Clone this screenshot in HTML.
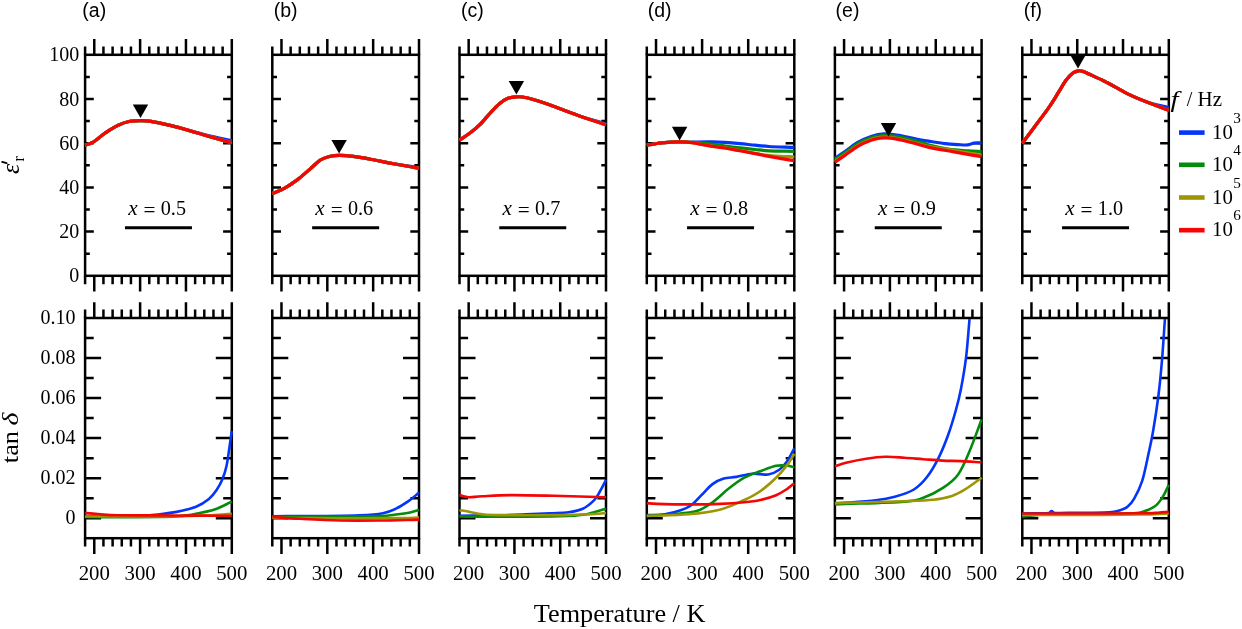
<!DOCTYPE html><html><head><meta charset="utf-8"><style>html,body{margin:0;padding:0;background:#fff;}svg{display:block;will-change:transform;}</style></head><body>
<svg width="1242" height="629" viewBox="0 0 1242 629">
<rect width="1242" height="629" fill="#fff"/>
<defs>
<clipPath id="ct0"><rect x="84" y="55.9" width="148.9" height="218.8"/></clipPath>
<clipPath id="cb0"><rect x="84" y="319.1" width="148.9" height="218"/></clipPath>
<clipPath id="ct1"><rect x="271.2" y="55.9" width="148.9" height="218.8"/></clipPath>
<clipPath id="cb1"><rect x="271.2" y="319.1" width="148.9" height="218"/></clipPath>
<clipPath id="ct2"><rect x="458.4" y="55.9" width="148.7" height="218.8"/></clipPath>
<clipPath id="cb2"><rect x="458.4" y="319.1" width="148.7" height="218"/></clipPath>
<clipPath id="ct3"><rect x="645.7" y="55.9" width="149.7" height="218.8"/></clipPath>
<clipPath id="cb3"><rect x="645.7" y="319.1" width="149.7" height="218"/></clipPath>
<clipPath id="ct4"><rect x="833.8" y="55.9" width="148.9" height="218.8"/></clipPath>
<clipPath id="cb4"><rect x="833.8" y="319.1" width="148.9" height="218"/></clipPath>
<clipPath id="ct5"><rect x="1021.2" y="55.9" width="148.7" height="218.8"/></clipPath>
<clipPath id="cb5"><rect x="1021.2" y="319.1" width="148.7" height="218"/></clipPath>
</defs>
<rect x="85.1" y="54.8" width="146.7" height="221" fill="none" stroke="#000" stroke-width="2.5"/>
<path d="M85.1 54.8V46.4M85.1 275.8V284.2M94.27 54.8V39.1M94.27 275.8V291.5M103.44 54.8V46.4M103.44 275.8V284.2M112.61 54.8V46.4M112.61 275.8V284.2M121.78 54.8V46.4M121.78 275.8V284.2M130.94 54.8V46.4M130.94 275.8V284.2M140.11 54.8V39.1M140.11 275.8V291.5M149.28 54.8V46.4M149.28 275.8V284.2M158.45 54.8V46.4M158.45 275.8V284.2M167.62 54.8V46.4M167.62 275.8V284.2M176.79 54.8V46.4M176.79 275.8V284.2M185.96 54.8V39.1M185.96 275.8V291.5M195.12 54.8V46.4M195.12 275.8V284.2M204.29 54.8V46.4M204.29 275.8V284.2M213.46 54.8V46.4M213.46 275.8V284.2M222.63 54.8V46.4M222.63 275.8V284.2M231.8 54.8V39.1M231.8 275.8V291.5M85.1 231.6H93.8M231.8 231.6H223.1M85.1 187.4H93.8M231.8 187.4H223.1M85.1 143.2H93.8M231.8 143.2H223.1M85.1 99H93.8M231.8 99H223.1M85.1 253.7H89.8M231.8 253.7H227.1M85.1 209.5H89.8M231.8 209.5H227.1M85.1 165.3H89.8M231.8 165.3H227.1M85.1 121.1H89.8M231.8 121.1H227.1M85.1 76.9H89.8M231.8 76.9H227.1" stroke="#000" stroke-width="2.5" fill="none"/>
<rect x="85.1" y="318" width="146.7" height="220.2" fill="none" stroke="#000" stroke-width="2.5"/>
<path d="M85.1 318V309.6M85.1 538.2V546.6M94.27 318V302.3M94.27 538.2V553.9M103.44 318V309.6M103.44 538.2V546.6M112.61 318V309.6M112.61 538.2V546.6M121.78 318V309.6M121.78 538.2V546.6M130.94 318V309.6M130.94 538.2V546.6M140.11 318V302.3M140.11 538.2V553.9M149.28 318V309.6M149.28 538.2V546.6M158.45 318V309.6M158.45 538.2V546.6M167.62 318V309.6M167.62 538.2V546.6M176.79 318V309.6M176.79 538.2V546.6M185.96 318V302.3M185.96 538.2V553.9M195.12 318V309.6M195.12 538.2V546.6M204.29 318V309.6M204.29 538.2V546.6M213.46 318V309.6M213.46 538.2V546.6M222.63 318V309.6M222.63 538.2V546.6M231.8 318V302.3M231.8 538.2V553.9M85.1 518.18H101.1M231.8 518.18H215.8M85.1 478.15H101.1M231.8 478.15H215.8M85.1 438.11H101.1M231.8 438.11H215.8M85.1 398.07H101.1M231.8 398.07H215.8M85.1 358.04H101.1M231.8 358.04H215.8M85.1 498.16H93.7M231.8 498.16H223.2M85.1 458.13H93.7M231.8 458.13H223.2M85.1 418.09H93.7M231.8 418.09H223.2M85.1 378.05H93.7M231.8 378.05H223.2M85.1 338.02H93.7M231.8 338.02H223.2" stroke="#000" stroke-width="2.5" fill="none"/>
<g clip-path="url(#ct0)">
<path d="M85.1 145.2C87.63 144.27 89.32 144.47 92.7 142.4C96.08 140.33 101.15 135.67 105.4 132.8C109.65 129.93 114.1 127.12 118.2 125.2C122.3 123.28 126.27 122.07 130 121.3C133.73 120.53 137.12 120.6 140.6 120.6C144.08 120.6 145.97 120.5 150.9 121.3C155.83 122.1 163.77 123.85 170.2 125.4C176.63 126.95 183.05 128.87 189.5 130.6C195.95 132.33 201.85 134.13 208.9 135.8C215.95 137.47 224.17 139 231.8 140.6" stroke="#0535f8" stroke-width="3.2" fill="none" stroke-linejoin="round" stroke-linecap="butt"/>
<path d="M85.1 145.2C87.63 144.27 89.32 144.47 92.7 142.4C96.08 140.33 101.15 135.67 105.4 132.8C109.65 129.93 114.1 127.12 118.2 125.2C122.3 123.28 126.27 122.07 130 121.3C133.73 120.53 137.12 120.6 140.6 120.6C144.08 120.6 145.97 120.5 150.9 121.3C155.83 122.1 163.77 123.85 170.2 125.4C176.63 126.95 183.05 128.77 189.5 130.6C195.95 132.43 201.85 134.37 208.9 136.4C215.95 138.43 224.17 140.67 231.8 142.8" stroke="#048b0c" stroke-width="3.2" fill="none" stroke-linejoin="round" stroke-linecap="butt"/>
<path d="M85.1 145.2C87.63 144.27 89.32 144.47 92.7 142.4C96.08 140.33 101.15 135.67 105.4 132.8C109.65 129.93 114.1 127.12 118.2 125.2C122.3 123.28 126.27 122.07 130 121.3C133.73 120.53 137.12 120.6 140.6 120.6C144.08 120.6 145.97 120.5 150.9 121.3C155.83 122.1 163.77 123.85 170.2 125.4C176.63 126.95 183.05 128.77 189.5 130.6C195.95 132.43 201.85 134.37 208.9 136.4C215.95 138.43 224.17 140.67 231.8 142.8" stroke="#9c9604" stroke-width="3.2" fill="none" stroke-linejoin="round" stroke-linecap="butt"/>
<path d="M85.1 145.2C87.63 144.27 89.32 144.47 92.7 142.4C96.08 140.33 101.15 135.67 105.4 132.8C109.65 129.93 114.1 127.12 118.2 125.2C122.3 123.28 126.27 122.07 130 121.3C133.73 120.53 137.12 120.6 140.6 120.6C144.08 120.6 145.97 120.5 150.9 121.3C155.83 122.1 163.77 123.85 170.2 125.4C176.63 126.95 183.05 128.77 189.5 130.6C195.95 132.43 201.85 134.37 208.9 136.4C215.95 138.43 224.17 140.67 231.8 142.8" stroke="#f50505" stroke-width="3.2" fill="none" stroke-linejoin="round" stroke-linecap="butt"/>
</g>
<g clip-path="url(#cb0)">
<path d="M85.1 516C93.4 516.17 100.85 516.5 110 516.5C119.15 516.5 132.12 516.33 140 516C147.88 515.67 151.2 515.18 157.3 514.5C163.4 513.82 170.15 513.18 176.6 511.9C183.05 510.62 190.62 508.95 196 506.8C201.38 504.65 205.47 501.8 208.9 499C212.33 496.2 214.33 493.33 216.6 490C218.87 486.67 220.85 483 222.5 479C224.15 475 225.33 471.33 226.5 466C227.67 460.67 228.62 452.83 229.5 447C230.38 441.17 231.03 436.33 231.8 431" stroke="#0535f8" stroke-width="2.6" fill="none" stroke-linejoin="round" stroke-linecap="butt"/>
<path d="M85.1 517C96.73 517.1 107.52 517.3 120 517.3C132.48 517.3 150 517.17 160 517C170 516.83 174 516.83 180 516.3C186 515.77 190.12 514.97 196 513.8C201.88 512.63 209.33 511.33 215.3 509.3C221.27 507.27 226.3 504.17 231.8 501.6" stroke="#048b0c" stroke-width="2.6" fill="none" stroke-linejoin="round" stroke-linecap="butt"/>
<path d="M85.1 516.5C103.4 516.5 120.85 516.62 140 516.5C159.15 516.38 184.7 516.25 200 515.8C215.3 515.35 221.2 514.47 231.8 513.8" stroke="#9c9604" stroke-width="2.6" fill="none" stroke-linejoin="round" stroke-linecap="butt"/>
<path d="M85.1 512.9C90.07 513.37 94.52 513.9 100 514.3C105.48 514.7 108 515.12 118 515.3C128 515.48 146.33 515.35 160 515.4C173.67 515.45 188.03 515.53 200 515.6C211.97 515.67 221.2 515.73 231.8 515.8" stroke="#f50505" stroke-width="2.6" fill="none" stroke-linejoin="round" stroke-linecap="butt"/>
</g>
<path d="M132.8 104.4L148.2 104.4L140.5 118Z" fill="#000"/>
<text transform="translate(128.15,215.4) scale(1.06,1)" font-family='"Liberation Serif", serif' font-size="20" font-style="italic">x</text>
<text transform="translate(143.45,217) scale(1.06,1)" font-family='"Liberation Serif", serif' font-size="20">=</text>
<text transform="translate(160.75,215.4) scale(1.01,1)" font-family='"Liberation Serif", serif' font-size="20">0.5</text>
<path d="M124.95 227.8H191.95" stroke="#000" stroke-width="3"/>
<text transform="translate(82.3,16.8)" font-family='"Liberation Sans", sans-serif' font-size="19.5">(a)</text>
<text transform="translate(94.27,580) scale(1.04,1)" font-family='"Liberation Serif", serif' font-size="20" text-anchor="middle">200</text>
<text transform="translate(140.11,580) scale(1.04,1)" font-family='"Liberation Serif", serif' font-size="20" text-anchor="middle">300</text>
<text transform="translate(185.96,580) scale(1.04,1)" font-family='"Liberation Serif", serif' font-size="20" text-anchor="middle">400</text>
<text transform="translate(231.8,580) scale(1.04,1)" font-family='"Liberation Serif", serif' font-size="20" text-anchor="middle">500</text>
<rect x="272.3" y="54.8" width="146.7" height="221" fill="none" stroke="#000" stroke-width="2.5"/>
<path d="M272.3 54.8V46.4M272.3 275.8V284.2M281.47 54.8V39.1M281.47 275.8V291.5M290.64 54.8V46.4M290.64 275.8V284.2M299.81 54.8V46.4M299.81 275.8V284.2M308.98 54.8V46.4M308.98 275.8V284.2M318.14 54.8V46.4M318.14 275.8V284.2M327.31 54.8V39.1M327.31 275.8V291.5M336.48 54.8V46.4M336.48 275.8V284.2M345.65 54.8V46.4M345.65 275.8V284.2M354.82 54.8V46.4M354.82 275.8V284.2M363.99 54.8V46.4M363.99 275.8V284.2M373.16 54.8V39.1M373.16 275.8V291.5M382.33 54.8V46.4M382.33 275.8V284.2M391.49 54.8V46.4M391.49 275.8V284.2M400.66 54.8V46.4M400.66 275.8V284.2M409.83 54.8V46.4M409.83 275.8V284.2M419 54.8V39.1M419 275.8V291.5M272.3 231.6H281M419 231.6H410.3M272.3 187.4H281M419 187.4H410.3M272.3 143.2H281M419 143.2H410.3M272.3 99H281M419 99H410.3M272.3 253.7H277M419 253.7H414.3M272.3 209.5H277M419 209.5H414.3M272.3 165.3H277M419 165.3H414.3M272.3 121.1H277M419 121.1H414.3M272.3 76.9H277M419 76.9H414.3" stroke="#000" stroke-width="2.5" fill="none"/>
<rect x="272.3" y="318" width="146.7" height="220.2" fill="none" stroke="#000" stroke-width="2.5"/>
<path d="M272.3 318V309.6M272.3 538.2V546.6M281.47 318V302.3M281.47 538.2V553.9M290.64 318V309.6M290.64 538.2V546.6M299.81 318V309.6M299.81 538.2V546.6M308.98 318V309.6M308.98 538.2V546.6M318.14 318V309.6M318.14 538.2V546.6M327.31 318V302.3M327.31 538.2V553.9M336.48 318V309.6M336.48 538.2V546.6M345.65 318V309.6M345.65 538.2V546.6M354.82 318V309.6M354.82 538.2V546.6M363.99 318V309.6M363.99 538.2V546.6M373.16 318V302.3M373.16 538.2V553.9M382.33 318V309.6M382.33 538.2V546.6M391.49 318V309.6M391.49 538.2V546.6M400.66 318V309.6M400.66 538.2V546.6M409.83 318V309.6M409.83 538.2V546.6M419 318V302.3M419 538.2V553.9M272.3 518.18H288.3M419 518.18H403M272.3 478.15H288.3M419 478.15H403M272.3 438.11H288.3M419 438.11H403M272.3 398.07H288.3M419 398.07H403M272.3 358.04H288.3M419 358.04H403M272.3 498.16H280.9M419 498.16H410.4M272.3 458.13H280.9M419 458.13H410.4M272.3 418.09H280.9M419 418.09H410.4M272.3 378.05H280.9M419 378.05H410.4M272.3 338.02H280.9M419 338.02H410.4" stroke="#000" stroke-width="2.5" fill="none"/>
<g clip-path="url(#ct1)">
<path d="M272.3 193.5C276.3 191.77 280.15 190.57 284.3 188.3C288.45 186.03 292.9 183.12 297.2 179.9C301.5 176.68 306.23 172.32 310.1 169C313.97 165.68 317.18 162.08 320.4 160C323.62 157.92 326.18 157.27 329.4 156.5C332.62 155.73 335.4 155.37 339.7 155.4C344 155.43 349.4 155.93 355.2 156.7C361 157.47 368.05 158.82 374.5 160C380.95 161.18 386.48 162.55 393.9 163.8C401.32 165.05 410.63 166.27 419 167.5" stroke="#0535f8" stroke-width="3.2" fill="none" stroke-linejoin="round" stroke-linecap="butt"/>
<path d="M272.3 193.5C276.3 191.77 280.15 190.57 284.3 188.3C288.45 186.03 292.9 183.12 297.2 179.9C301.5 176.68 306.23 172.32 310.1 169C313.97 165.68 317.18 162.08 320.4 160C323.62 157.92 326.18 157.27 329.4 156.5C332.62 155.73 335.4 155.37 339.7 155.4C344 155.43 349.4 155.93 355.2 156.7C361 157.47 368.05 158.82 374.5 160C380.95 161.18 386.48 162.42 393.9 163.8C401.32 165.18 410.63 166.8 419 168.3" stroke="#048b0c" stroke-width="3.2" fill="none" stroke-linejoin="round" stroke-linecap="butt"/>
<path d="M272.3 193.5C276.3 191.77 280.15 190.57 284.3 188.3C288.45 186.03 292.9 183.12 297.2 179.9C301.5 176.68 306.23 172.32 310.1 169C313.97 165.68 317.18 162.08 320.4 160C323.62 157.92 326.18 157.27 329.4 156.5C332.62 155.73 335.4 155.37 339.7 155.4C344 155.43 349.4 155.93 355.2 156.7C361 157.47 368.05 158.82 374.5 160C380.95 161.18 386.48 162.42 393.9 163.8C401.32 165.18 410.63 166.8 419 168.3" stroke="#9c9604" stroke-width="3.2" fill="none" stroke-linejoin="round" stroke-linecap="butt"/>
<path d="M272.3 193.5C276.3 191.77 280.15 190.57 284.3 188.3C288.45 186.03 292.9 183.12 297.2 179.9C301.5 176.68 306.23 172.32 310.1 169C313.97 165.68 317.18 162.08 320.4 160C323.62 157.92 326.18 157.27 329.4 156.5C332.62 155.73 335.4 155.37 339.7 155.4C344 155.43 349.4 155.93 355.2 156.7C361 157.47 368.05 158.82 374.5 160C380.95 161.18 386.48 162.42 393.9 163.8C401.32 165.18 410.63 166.8 419 168.3" stroke="#f50505" stroke-width="3.2" fill="none" stroke-linejoin="round" stroke-linecap="butt"/>
</g>
<g clip-path="url(#cb1)">
<path d="M272.3 516.2C288.2 516.13 305.38 516.15 320 516C334.62 515.85 349.5 515.77 360 515.3C370.5 514.83 377.02 514.3 383 513.2C388.98 512.1 391.6 510.75 395.9 508.7C400.2 506.65 404.95 503.58 408.8 500.9C412.65 498.22 415.6 495.37 419 492.6" stroke="#0535f8" stroke-width="2.6" fill="none" stroke-linejoin="round" stroke-linecap="butt"/>
<path d="M272.3 517C294.87 516.83 322.05 516.67 340 516.5C357.95 516.33 370.68 516.33 380 516C389.32 515.67 390.9 515.08 395.9 514.5C400.9 513.92 406.15 513.25 410 512.5C413.85 511.75 416 510.83 419 510" stroke="#048b0c" stroke-width="2.6" fill="none" stroke-linejoin="round" stroke-linecap="butt"/>
<path d="M272.3 518C294.87 518.1 318.72 518.3 340 518.3C361.28 518.3 386.83 518.13 400 518C413.17 517.87 412.67 517.67 419 517.5" stroke="#9c9604" stroke-width="2.6" fill="none" stroke-linejoin="round" stroke-linecap="butt"/>
<path d="M272.3 517C281.53 517.6 288.72 518.22 300 518.8C311.28 519.38 326.67 520.22 340 520.5C353.33 520.78 366.83 520.65 380 520.5C393.17 520.35 406 519.9 419 519.6" stroke="#f50505" stroke-width="2.6" fill="none" stroke-linejoin="round" stroke-linecap="butt"/>
</g>
<path d="M331.4 140L346.8 140L339.1 153.6Z" fill="#000"/>
<text transform="translate(315.35,215.4) scale(1.06,1)" font-family='"Liberation Serif", serif' font-size="20" font-style="italic">x</text>
<text transform="translate(330.65,217) scale(1.06,1)" font-family='"Liberation Serif", serif' font-size="20">=</text>
<text transform="translate(347.95,215.4) scale(1.01,1)" font-family='"Liberation Serif", serif' font-size="20">0.6</text>
<path d="M312.15 227.8H379.15" stroke="#000" stroke-width="3"/>
<text transform="translate(273.7,16.8)" font-family='"Liberation Sans", sans-serif' font-size="19.5">(b)</text>
<text transform="translate(281.47,580) scale(1.04,1)" font-family='"Liberation Serif", serif' font-size="20" text-anchor="middle">200</text>
<text transform="translate(327.31,580) scale(1.04,1)" font-family='"Liberation Serif", serif' font-size="20" text-anchor="middle">300</text>
<text transform="translate(373.16,580) scale(1.04,1)" font-family='"Liberation Serif", serif' font-size="20" text-anchor="middle">400</text>
<text transform="translate(419,580) scale(1.04,1)" font-family='"Liberation Serif", serif' font-size="20" text-anchor="middle">500</text>
<rect x="459.5" y="54.8" width="146.5" height="221" fill="none" stroke="#000" stroke-width="2.5"/>
<path d="M459.5 54.8V46.4M459.5 275.8V284.2M468.66 54.8V39.1M468.66 275.8V291.5M477.81 54.8V46.4M477.81 275.8V284.2M486.97 54.8V46.4M486.97 275.8V284.2M496.12 54.8V46.4M496.12 275.8V284.2M505.28 54.8V46.4M505.28 275.8V284.2M514.44 54.8V39.1M514.44 275.8V291.5M523.59 54.8V46.4M523.59 275.8V284.2M532.75 54.8V46.4M532.75 275.8V284.2M541.91 54.8V46.4M541.91 275.8V284.2M551.06 54.8V46.4M551.06 275.8V284.2M560.22 54.8V39.1M560.22 275.8V291.5M569.38 54.8V46.4M569.38 275.8V284.2M578.53 54.8V46.4M578.53 275.8V284.2M587.69 54.8V46.4M587.69 275.8V284.2M596.84 54.8V46.4M596.84 275.8V284.2M606 54.8V39.1M606 275.8V291.5M459.5 231.6H468.2M606 231.6H597.3M459.5 187.4H468.2M606 187.4H597.3M459.5 143.2H468.2M606 143.2H597.3M459.5 99H468.2M606 99H597.3M459.5 253.7H464.2M606 253.7H601.3M459.5 209.5H464.2M606 209.5H601.3M459.5 165.3H464.2M606 165.3H601.3M459.5 121.1H464.2M606 121.1H601.3M459.5 76.9H464.2M606 76.9H601.3" stroke="#000" stroke-width="2.5" fill="none"/>
<rect x="459.5" y="318" width="146.5" height="220.2" fill="none" stroke="#000" stroke-width="2.5"/>
<path d="M459.5 318V309.6M459.5 538.2V546.6M468.66 318V302.3M468.66 538.2V553.9M477.81 318V309.6M477.81 538.2V546.6M486.97 318V309.6M486.97 538.2V546.6M496.12 318V309.6M496.12 538.2V546.6M505.28 318V309.6M505.28 538.2V546.6M514.44 318V302.3M514.44 538.2V553.9M523.59 318V309.6M523.59 538.2V546.6M532.75 318V309.6M532.75 538.2V546.6M541.91 318V309.6M541.91 538.2V546.6M551.06 318V309.6M551.06 538.2V546.6M560.22 318V302.3M560.22 538.2V553.9M569.38 318V309.6M569.38 538.2V546.6M578.53 318V309.6M578.53 538.2V546.6M587.69 318V309.6M587.69 538.2V546.6M596.84 318V309.6M596.84 538.2V546.6M606 318V302.3M606 538.2V553.9M459.5 518.18H475.5M606 518.18H590M459.5 478.15H475.5M606 478.15H590M459.5 438.11H475.5M606 438.11H590M459.5 398.07H475.5M606 398.07H590M459.5 358.04H475.5M606 358.04H590M459.5 498.16H468.1M606 498.16H597.4M459.5 458.13H468.1M606 458.13H597.4M459.5 418.09H468.1M606 418.09H597.4M459.5 378.05H468.1M606 378.05H597.4M459.5 338.02H468.1M606 338.02H597.4" stroke="#000" stroke-width="2.5" fill="none"/>
<g clip-path="url(#ct2)">
<path d="M459.5 140.2C463.43 137.43 467.82 134.58 471.3 131.9C474.78 129.22 477.17 127.33 480.4 124.1C483.63 120.87 487.48 115.93 490.7 112.5C493.92 109.07 496.92 105.85 499.7 103.5C502.48 101.15 504.62 99.52 507.4 98.4C510.18 97.28 513.18 96.92 516.4 96.8C519.62 96.68 522.4 96.8 526.7 97.7C531 98.6 536.4 100.27 542.2 102.2C548 104.13 555.05 106.93 561.5 109.3C567.95 111.67 573.48 113.98 580.9 116.4C588.32 118.82 597.63 121.33 606 123.8" stroke="#0535f8" stroke-width="3.2" fill="none" stroke-linejoin="round" stroke-linecap="butt"/>
<path d="M459.5 140.2C463.43 137.43 467.82 134.58 471.3 131.9C474.78 129.22 477.17 127.33 480.4 124.1C483.63 120.87 487.48 115.93 490.7 112.5C493.92 109.07 496.92 105.85 499.7 103.5C502.48 101.15 504.62 99.52 507.4 98.4C510.18 97.28 513.18 96.92 516.4 96.8C519.62 96.68 522.4 96.8 526.7 97.7C531 98.6 536.4 100.27 542.2 102.2C548 104.13 555.05 106.93 561.5 109.3C567.95 111.67 573.48 113.82 580.9 116.4C588.32 118.98 597.63 122 606 124.8" stroke="#048b0c" stroke-width="3.2" fill="none" stroke-linejoin="round" stroke-linecap="butt"/>
<path d="M459.5 140.2C463.43 137.43 467.82 134.58 471.3 131.9C474.78 129.22 477.17 127.33 480.4 124.1C483.63 120.87 487.48 115.93 490.7 112.5C493.92 109.07 496.92 105.85 499.7 103.5C502.48 101.15 504.62 99.52 507.4 98.4C510.18 97.28 513.18 96.92 516.4 96.8C519.62 96.68 522.4 96.8 526.7 97.7C531 98.6 536.4 100.27 542.2 102.2C548 104.13 555.05 106.93 561.5 109.3C567.95 111.67 573.48 113.82 580.9 116.4C588.32 118.98 597.63 122 606 124.8" stroke="#9c9604" stroke-width="3.2" fill="none" stroke-linejoin="round" stroke-linecap="butt"/>
<path d="M459.5 140.2C463.43 137.43 467.82 134.58 471.3 131.9C474.78 129.22 477.17 127.33 480.4 124.1C483.63 120.87 487.48 115.93 490.7 112.5C493.92 109.07 496.92 105.85 499.7 103.5C502.48 101.15 504.62 99.52 507.4 98.4C510.18 97.28 513.18 96.92 516.4 96.8C519.62 96.68 522.4 96.8 526.7 97.7C531 98.6 536.4 100.27 542.2 102.2C548 104.13 555.05 106.93 561.5 109.3C567.95 111.67 573.48 113.82 580.9 116.4C588.32 118.98 597.63 122 606 124.8" stroke="#f50505" stroke-width="3.2" fill="none" stroke-linejoin="round" stroke-linecap="butt"/>
</g>
<g clip-path="url(#cb2)">
<path d="M459.5 515.8C473 515.63 489 515.53 500 515.3C511 515.07 517.17 514.75 525.5 514.4C533.83 514.05 542.83 513.57 550 513.2C557.17 512.83 563.03 512.95 568.5 512.2C573.97 511.45 578.52 510.72 582.8 508.7C587.08 506.68 591.35 502.97 594.2 500.1C597.05 497.23 597.93 494.85 599.9 491.5C601.87 488.15 603.97 483.83 606 480" stroke="#0535f8" stroke-width="2.6" fill="none" stroke-linejoin="round" stroke-linecap="butt"/>
<path d="M459.5 516.5C473 516.6 483.25 516.83 500 516.8C516.75 516.77 545.83 516.68 560 516.3C574.17 515.92 577.33 515.77 585 514.5C592.67 513.23 599 510.63 606 508.7" stroke="#048b0c" stroke-width="2.6" fill="none" stroke-linejoin="round" stroke-linecap="butt"/>
<path d="M459.5 510.1C462 510.47 465.05 510.85 467 511.2C468.95 511.55 468.6 511.67 471.2 512.2C473.8 512.73 477.8 513.92 482.6 514.4C487.4 514.88 487.1 514.98 500 515.1C512.9 515.22 545 515.23 560 515.1C575 514.97 582.33 514.65 590 514.3C597.67 513.95 600.67 513.43 606 513" stroke="#9c9604" stroke-width="2.6" fill="none" stroke-linejoin="round" stroke-linecap="butt"/>
<path d="M459.5 495.1C462.57 495.8 464.95 497 468.7 497.2C472.45 497.4 474.92 496.65 482 496.3C489.08 495.95 499.2 495.18 511.2 495.1C523.2 495.02 538.2 495.45 554 495.8C569.8 496.15 588.67 496.73 606 497.2" stroke="#f50505" stroke-width="2.6" fill="none" stroke-linejoin="round" stroke-linecap="butt"/>
</g>
<path d="M508.7 81L524.1 81L516.4 94.6Z" fill="#000"/>
<text transform="translate(502.45,215.4) scale(1.06,1)" font-family='"Liberation Serif", serif' font-size="20" font-style="italic">x</text>
<text transform="translate(517.75,217) scale(1.06,1)" font-family='"Liberation Serif", serif' font-size="20">=</text>
<text transform="translate(535.05,215.4) scale(1.01,1)" font-family='"Liberation Serif", serif' font-size="20">0.7</text>
<path d="M499.25 227.8H566.25" stroke="#000" stroke-width="3"/>
<text transform="translate(461.1,16.8)" font-family='"Liberation Sans", sans-serif' font-size="19.5">(c)</text>
<text transform="translate(468.66,580) scale(1.04,1)" font-family='"Liberation Serif", serif' font-size="20" text-anchor="middle">200</text>
<text transform="translate(514.44,580) scale(1.04,1)" font-family='"Liberation Serif", serif' font-size="20" text-anchor="middle">300</text>
<text transform="translate(560.22,580) scale(1.04,1)" font-family='"Liberation Serif", serif' font-size="20" text-anchor="middle">400</text>
<text transform="translate(606,580) scale(1.04,1)" font-family='"Liberation Serif", serif' font-size="20" text-anchor="middle">500</text>
<rect x="646.8" y="54.8" width="147.5" height="221" fill="none" stroke="#000" stroke-width="2.5"/>
<path d="M646.8 54.8V46.4M646.8 275.8V284.2M656.02 54.8V39.1M656.02 275.8V291.5M665.24 54.8V46.4M665.24 275.8V284.2M674.46 54.8V46.4M674.46 275.8V284.2M683.67 54.8V46.4M683.67 275.8V284.2M692.89 54.8V46.4M692.89 275.8V284.2M702.11 54.8V39.1M702.11 275.8V291.5M711.33 54.8V46.4M711.33 275.8V284.2M720.55 54.8V46.4M720.55 275.8V284.2M729.77 54.8V46.4M729.77 275.8V284.2M738.99 54.8V46.4M738.99 275.8V284.2M748.21 54.8V39.1M748.21 275.8V291.5M757.42 54.8V46.4M757.42 275.8V284.2M766.64 54.8V46.4M766.64 275.8V284.2M775.86 54.8V46.4M775.86 275.8V284.2M785.08 54.8V46.4M785.08 275.8V284.2M794.3 54.8V39.1M794.3 275.8V291.5M646.8 231.6H655.5M794.3 231.6H785.6M646.8 187.4H655.5M794.3 187.4H785.6M646.8 143.2H655.5M794.3 143.2H785.6M646.8 99H655.5M794.3 99H785.6M646.8 253.7H651.5M794.3 253.7H789.6M646.8 209.5H651.5M794.3 209.5H789.6M646.8 165.3H651.5M794.3 165.3H789.6M646.8 121.1H651.5M794.3 121.1H789.6M646.8 76.9H651.5M794.3 76.9H789.6" stroke="#000" stroke-width="2.5" fill="none"/>
<rect x="646.8" y="318" width="147.5" height="220.2" fill="none" stroke="#000" stroke-width="2.5"/>
<path d="M646.8 318V309.6M646.8 538.2V546.6M656.02 318V302.3M656.02 538.2V553.9M665.24 318V309.6M665.24 538.2V546.6M674.46 318V309.6M674.46 538.2V546.6M683.67 318V309.6M683.67 538.2V546.6M692.89 318V309.6M692.89 538.2V546.6M702.11 318V302.3M702.11 538.2V553.9M711.33 318V309.6M711.33 538.2V546.6M720.55 318V309.6M720.55 538.2V546.6M729.77 318V309.6M729.77 538.2V546.6M738.99 318V309.6M738.99 538.2V546.6M748.21 318V302.3M748.21 538.2V553.9M757.42 318V309.6M757.42 538.2V546.6M766.64 318V309.6M766.64 538.2V546.6M775.86 318V309.6M775.86 538.2V546.6M785.08 318V309.6M785.08 538.2V546.6M794.3 318V302.3M794.3 538.2V553.9M646.8 518.18H662.8M794.3 518.18H778.3M646.8 478.15H662.8M794.3 478.15H778.3M646.8 438.11H662.8M794.3 438.11H778.3M646.8 398.07H662.8M794.3 398.07H778.3M646.8 358.04H662.8M794.3 358.04H778.3M646.8 498.16H655.4M794.3 498.16H785.7M646.8 458.13H655.4M794.3 458.13H785.7M646.8 418.09H655.4M794.3 418.09H785.7M646.8 378.05H655.4M794.3 378.05H785.7M646.8 338.02H655.4M794.3 338.02H785.7" stroke="#000" stroke-width="2.5" fill="none"/>
<g clip-path="url(#ct3)">
<path d="M646.8 145.2C649.53 144.73 652.07 144.23 655 143.8C657.93 143.37 660.37 142.92 664.4 142.6C668.43 142.28 674.93 141.95 679.2 141.9C683.47 141.85 687.1 142.28 690 142.3C692.9 142.32 692.93 142.07 696.6 142C700.27 141.93 707.27 141.83 712 141.9C716.73 141.97 720.33 142.12 725 142.4C729.67 142.68 735 143.13 740 143.6C745 144.07 750.17 144.72 755 145.2C759.83 145.68 762.45 146.13 769 146.5C775.55 146.87 785.87 147.1 794.3 147.4" stroke="#0535f8" stroke-width="3.2" fill="none" stroke-linejoin="round" stroke-linecap="butt"/>
<path d="M646.8 145.2C649.53 144.73 652.07 144.23 655 143.8C657.93 143.37 660.37 142.92 664.4 142.6C668.43 142.28 674.93 141.95 679.2 141.9C683.47 141.85 687.1 142.18 690 142.3C692.9 142.42 693.27 142.35 696.6 142.6C699.93 142.85 705.27 143.23 710 143.8C714.73 144.37 720 145.32 725 146C730 146.68 735 147.32 740 147.9C745 148.48 750.17 149.02 755 149.5C759.83 149.98 762.45 150.5 769 150.8C775.55 151.1 785.87 151.13 794.3 151.3" stroke="#048b0c" stroke-width="3.2" fill="none" stroke-linejoin="round" stroke-linecap="butt"/>
<path d="M646.8 145.2C649.53 144.73 652.07 144.23 655 143.8C657.93 143.37 660.37 142.92 664.4 142.6C668.43 142.28 674.93 141.95 679.2 141.9C683.47 141.85 687.1 142.05 690 142.3C692.9 142.55 693.35 142.85 696.6 143.4C699.85 143.95 704.77 144.87 709.5 145.6C714.23 146.33 719.92 146.98 725 147.8C730.08 148.62 735 149.6 740 150.5C745 151.4 750.67 152.42 755 153.2C759.33 153.98 761.83 154.67 766 155.2C770.17 155.73 775.28 156.13 780 156.4C784.72 156.67 789.53 156.67 794.3 156.8" stroke="#9c9604" stroke-width="3.2" fill="none" stroke-linejoin="round" stroke-linecap="butt"/>
<path d="M646.8 145.2C649.53 144.73 652.07 144.23 655 143.8C657.93 143.37 660.37 142.92 664.4 142.6C668.43 142.28 674.93 141.95 679.2 141.9C683.47 141.85 687.1 142.03 690 142.3C692.9 142.57 693.35 142.92 696.6 143.5C699.85 144.08 704.77 145.05 709.5 145.8C714.23 146.55 719.92 147.17 725 148C730.08 148.83 735 149.87 740 150.8C745 151.73 750.17 152.67 755 153.6C759.83 154.53 764.33 155.53 769 156.4C773.67 157.27 778.78 158.08 783 158.8C787.22 159.52 790.53 160.07 794.3 160.7" stroke="#f50505" stroke-width="3.2" fill="none" stroke-linejoin="round" stroke-linecap="butt"/>
</g>
<g clip-path="url(#cb3)">
<path d="M646.8 515.1C652.8 514.83 659.15 515.1 664.8 514.3C670.45 513.5 676.18 511.9 680.7 510.3C685.22 508.7 688.45 507.22 691.9 504.7C695.35 502.18 697.97 498.63 701.4 495.2C704.83 491.77 708.78 486.88 712.5 484.1C716.22 481.32 719.72 479.7 723.7 478.5C727.68 477.3 731.63 477.7 736.4 476.9C741.17 476.1 747 474.1 752.3 473.7C757.6 473.3 763.7 475.17 768.2 474.5C772.7 473.83 776.12 471.95 779.3 469.7C782.48 467.45 784.8 464.57 787.3 461C789.8 457.43 791.97 452.53 794.3 448.3" stroke="#0535f8" stroke-width="2.6" fill="none" stroke-linejoin="round" stroke-linecap="butt"/>
<path d="M646.8 515.9C655.47 515.37 664.5 515.1 672.8 514.3C681.1 513.5 689.98 513.1 696.6 511.1C703.22 509.1 707.2 506.02 712.5 502.3C717.8 498.58 723.1 492.9 728.4 488.8C733.7 484.7 739 480.62 744.3 477.7C749.6 474.78 754.9 473.28 760.2 471.3C765.5 469.32 771.58 466.72 776.1 465.8C780.62 464.88 784.27 465.53 787.3 465.8C790.33 466.07 791.97 466.87 794.3 467.4" stroke="#048b0c" stroke-width="2.6" fill="none" stroke-linejoin="round" stroke-linecap="butt"/>
<path d="M646.8 515.9C660.77 515.37 676.42 515.37 688.7 514.3C700.98 513.23 711.23 511.88 720.5 509.5C729.77 507.12 737.68 503.05 744.3 500C750.92 496.95 754.9 494.92 760.2 491.2C765.5 487.48 771.58 482.07 776.1 477.7C780.62 473.33 784.27 468.98 787.3 465C790.33 461.02 791.97 457.53 794.3 453.8" stroke="#9c9604" stroke-width="2.6" fill="none" stroke-linejoin="round" stroke-linecap="butt"/>
<path d="M646.8 503.1C650.17 503.37 649.92 503.68 656.9 503.9C663.88 504.12 678.1 504.4 688.7 504.4C699.3 504.4 711.23 504.25 720.5 503.9C729.77 503.55 737.68 502.95 744.3 502.3C750.92 501.65 754.9 501.18 760.2 500C765.5 498.82 771.58 497.07 776.1 495.2C780.62 493.33 784.27 490.78 787.3 488.8C790.33 486.82 791.97 485.13 794.3 483.3" stroke="#f50505" stroke-width="2.6" fill="none" stroke-linejoin="round" stroke-linecap="butt"/>
</g>
<path d="M671.9 126.8L687.3 126.8L679.6 140.4Z" fill="#000"/>
<text transform="translate(690.25,215.4) scale(1.06,1)" font-family='"Liberation Serif", serif' font-size="20" font-style="italic">x</text>
<text transform="translate(705.55,217) scale(1.06,1)" font-family='"Liberation Serif", serif' font-size="20">=</text>
<text transform="translate(722.85,215.4) scale(1.01,1)" font-family='"Liberation Serif", serif' font-size="20">0.8</text>
<path d="M687.05 227.8H754.05" stroke="#000" stroke-width="3"/>
<text transform="translate(647.7,16.8)" font-family='"Liberation Sans", sans-serif' font-size="19.5">(d)</text>
<text transform="translate(656.02,580) scale(1.04,1)" font-family='"Liberation Serif", serif' font-size="20" text-anchor="middle">200</text>
<text transform="translate(702.11,580) scale(1.04,1)" font-family='"Liberation Serif", serif' font-size="20" text-anchor="middle">300</text>
<text transform="translate(748.21,580) scale(1.04,1)" font-family='"Liberation Serif", serif' font-size="20" text-anchor="middle">400</text>
<text transform="translate(794.3,580) scale(1.04,1)" font-family='"Liberation Serif", serif' font-size="20" text-anchor="middle">500</text>
<rect x="834.9" y="54.8" width="146.7" height="221" fill="none" stroke="#000" stroke-width="2.5"/>
<path d="M834.9 54.8V46.4M834.9 275.8V284.2M844.07 54.8V39.1M844.07 275.8V291.5M853.24 54.8V46.4M853.24 275.8V284.2M862.41 54.8V46.4M862.41 275.8V284.2M871.58 54.8V46.4M871.58 275.8V284.2M880.74 54.8V46.4M880.74 275.8V284.2M889.91 54.8V39.1M889.91 275.8V291.5M899.08 54.8V46.4M899.08 275.8V284.2M908.25 54.8V46.4M908.25 275.8V284.2M917.42 54.8V46.4M917.42 275.8V284.2M926.59 54.8V46.4M926.59 275.8V284.2M935.76 54.8V39.1M935.76 275.8V291.5M944.93 54.8V46.4M944.93 275.8V284.2M954.09 54.8V46.4M954.09 275.8V284.2M963.26 54.8V46.4M963.26 275.8V284.2M972.43 54.8V46.4M972.43 275.8V284.2M981.6 54.8V39.1M981.6 275.8V291.5M834.9 231.6H843.6M981.6 231.6H972.9M834.9 187.4H843.6M981.6 187.4H972.9M834.9 143.2H843.6M981.6 143.2H972.9M834.9 99H843.6M981.6 99H972.9M834.9 253.7H839.6M981.6 253.7H976.9M834.9 209.5H839.6M981.6 209.5H976.9M834.9 165.3H839.6M981.6 165.3H976.9M834.9 121.1H839.6M981.6 121.1H976.9M834.9 76.9H839.6M981.6 76.9H976.9" stroke="#000" stroke-width="2.5" fill="none"/>
<rect x="834.9" y="318" width="146.7" height="220.2" fill="none" stroke="#000" stroke-width="2.5"/>
<path d="M834.9 318V309.6M834.9 538.2V546.6M844.07 318V302.3M844.07 538.2V553.9M853.24 318V309.6M853.24 538.2V546.6M862.41 318V309.6M862.41 538.2V546.6M871.58 318V309.6M871.58 538.2V546.6M880.74 318V309.6M880.74 538.2V546.6M889.91 318V302.3M889.91 538.2V553.9M899.08 318V309.6M899.08 538.2V546.6M908.25 318V309.6M908.25 538.2V546.6M917.42 318V309.6M917.42 538.2V546.6M926.59 318V309.6M926.59 538.2V546.6M935.76 318V302.3M935.76 538.2V553.9M944.93 318V309.6M944.93 538.2V546.6M954.09 318V309.6M954.09 538.2V546.6M963.26 318V309.6M963.26 538.2V546.6M972.43 318V309.6M972.43 538.2V546.6M981.6 318V302.3M981.6 538.2V553.9M834.9 518.18H850.9M981.6 518.18H965.6M834.9 478.15H850.9M981.6 478.15H965.6M834.9 438.11H850.9M981.6 438.11H965.6M834.9 398.07H850.9M981.6 398.07H965.6M834.9 358.04H850.9M981.6 358.04H965.6M834.9 498.16H843.5M981.6 498.16H973M834.9 458.13H843.5M981.6 458.13H973M834.9 418.09H843.5M981.6 418.09H973M834.9 378.05H843.5M981.6 378.05H973M834.9 338.02H843.5M981.6 338.02H973" stroke="#000" stroke-width="2.5" fill="none"/>
<g clip-path="url(#ct4)">
<path d="M834.9 158.3C838.37 155.93 841.42 153.88 845.3 151.2C849.18 148.52 853.9 144.67 858.2 142.2C862.5 139.73 866.8 137.8 871.1 136.4C875.4 135 879.7 134.02 884 133.8C888.3 133.58 891.53 134.23 896.9 135.1C902.27 135.97 910.68 137.95 916.2 139C921.72 140.05 925.2 140.63 930 141.4C934.8 142.17 940.33 143.07 945 143.6C949.67 144.13 954.2 144.38 958 144.6C961.8 144.82 965.1 145.17 967.8 144.9C970.5 144.63 971.9 143.33 974.2 143C976.5 142.67 979.13 142.93 981.6 142.9" stroke="#0535f8" stroke-width="3.2" fill="none" stroke-linejoin="round" stroke-linecap="butt"/>
<path d="M834.9 159.6C838.37 157.23 841.42 155.18 845.3 152.5C849.18 149.82 853.9 145.97 858.2 143.5C862.5 141.03 866.8 139.07 871.1 137.7C875.4 136.33 879.7 135.48 884 135.3C888.3 135.12 891.53 135.65 896.9 136.6C902.27 137.55 910.68 139.55 916.2 141C921.72 142.45 924.63 143.95 930 145.3C935.37 146.65 942.1 148.17 948.4 149.1C954.7 150.03 962.27 150.5 967.8 150.9C973.33 151.3 977 151.3 981.6 151.5" stroke="#048b0c" stroke-width="3.2" fill="none" stroke-linejoin="round" stroke-linecap="butt"/>
<path d="M834.9 161.4C838.37 159.03 841.42 156.98 845.3 154.3C849.18 151.62 853.9 147.77 858.2 145.3C862.5 142.83 867.45 140.82 871.1 139.5C874.75 138.18 876.88 137.75 880.1 137.4C883.32 137.05 886.53 137 890.4 137.4C894.27 137.8 899.03 138.87 903.3 139.8C907.57 140.73 911.55 141.87 916 143C920.45 144.13 923.67 145.33 930 146.6C936.33 147.87 945.4 149.17 954 150.6C962.6 152.03 972.4 153.67 981.6 155.2" stroke="#9c9604" stroke-width="3.2" fill="none" stroke-linejoin="round" stroke-linecap="butt"/>
<path d="M834.9 162.2C838.37 159.83 841.42 157.78 845.3 155.1C849.18 152.42 853.9 148.57 858.2 146.1C862.5 143.63 867.45 141.63 871.1 140.3C874.75 138.97 876.88 138.47 880.1 138.1C883.32 137.73 886.53 137.7 890.4 138.1C894.27 138.5 899.03 139.55 903.3 140.5C907.57 141.45 911.55 142.62 916 143.8C920.45 144.98 923.67 146.25 930 147.6C936.33 148.95 945.4 150.38 954 151.9C962.6 153.42 972.4 155.1 981.6 156.7" stroke="#f50505" stroke-width="3.2" fill="none" stroke-linejoin="round" stroke-linecap="butt"/>
</g>
<g clip-path="url(#cb4)">
<path d="M834.9 503.5C848.5 502.43 865.72 501.42 875.7 500.3C885.68 499.18 888.43 498.6 894.8 496.8C901.17 495 908.5 492.83 913.9 489.5C919.3 486.17 923.07 482.1 927.2 476.8C931.33 471.5 935.2 464.7 938.7 457.7C942.2 450.7 945.33 442.75 948.2 434.8C951.07 426.85 953.77 417.68 955.9 410C958.03 402.32 959.3 397.5 961 388.7C962.7 379.9 964.67 368.98 966.1 357.2C967.53 345.42 968.43 331.07 969.6 318" stroke="#0535f8" stroke-width="2.6" fill="none" stroke-linejoin="round" stroke-linecap="butt"/>
<path d="M834.9 504.5C858.03 503.53 889.55 502.72 904.3 501.6C919.05 500.48 917.03 500.03 923.4 497.8C929.77 495.57 936.77 492.02 942.5 488.2C948.23 484.38 953.35 480.93 957.8 474.9C962.25 468.87 965.23 461.23 969.2 452C973.17 442.77 977.47 430.33 981.6 419.5" stroke="#048b0c" stroke-width="2.6" fill="none" stroke-linejoin="round" stroke-linecap="butt"/>
<path d="M834.9 503.1C858.03 502.47 887.95 501.77 904.3 501.2C920.65 500.63 925.05 500.58 933 499.7C940.95 498.82 946.6 497.65 952 495.9C957.4 494.15 960.47 492.23 965.4 489.2C970.33 486.17 976.2 481.53 981.6 477.7" stroke="#9c9604" stroke-width="2.6" fill="none" stroke-linejoin="round" stroke-linecap="butt"/>
<path d="M834.9 466.3C838.97 465.03 841.88 463.77 847.1 462.5C852.32 461.23 859.83 459.65 866.2 458.7C872.57 457.75 878.95 456.97 885.3 456.8C891.65 456.63 897.95 457.3 904.3 457.7C910.65 458.1 917.03 458.72 923.4 459.2C929.77 459.68 936.13 460.28 942.5 460.6C948.87 460.92 955.08 460.78 961.6 461.1C968.12 461.42 974.93 462.03 981.6 462.5" stroke="#f50505" stroke-width="2.6" fill="none" stroke-linejoin="round" stroke-linecap="butt"/>
</g>
<path d="M880.8 122.9L896.2 122.9L888.5 136.5Z" fill="#000"/>
<text transform="translate(877.95,215.4) scale(1.06,1)" font-family='"Liberation Serif", serif' font-size="20" font-style="italic">x</text>
<text transform="translate(893.25,217) scale(1.06,1)" font-family='"Liberation Serif", serif' font-size="20">=</text>
<text transform="translate(910.55,215.4) scale(1.01,1)" font-family='"Liberation Serif", serif' font-size="20">0.9</text>
<path d="M874.75 227.8H941.75" stroke="#000" stroke-width="3"/>
<text transform="translate(835.6,16.8)" font-family='"Liberation Sans", sans-serif' font-size="19.5">(e)</text>
<text transform="translate(844.07,580) scale(1.04,1)" font-family='"Liberation Serif", serif' font-size="20" text-anchor="middle">200</text>
<text transform="translate(889.91,580) scale(1.04,1)" font-family='"Liberation Serif", serif' font-size="20" text-anchor="middle">300</text>
<text transform="translate(935.76,580) scale(1.04,1)" font-family='"Liberation Serif", serif' font-size="20" text-anchor="middle">400</text>
<text transform="translate(981.6,580) scale(1.04,1)" font-family='"Liberation Serif", serif' font-size="20" text-anchor="middle">500</text>
<rect x="1022.3" y="54.8" width="146.5" height="221" fill="none" stroke="#000" stroke-width="2.5"/>
<path d="M1022.3 54.8V46.4M1022.3 275.8V284.2M1031.46 54.8V39.1M1031.46 275.8V291.5M1040.61 54.8V46.4M1040.61 275.8V284.2M1049.77 54.8V46.4M1049.77 275.8V284.2M1058.92 54.8V46.4M1058.92 275.8V284.2M1068.08 54.8V46.4M1068.08 275.8V284.2M1077.24 54.8V39.1M1077.24 275.8V291.5M1086.39 54.8V46.4M1086.39 275.8V284.2M1095.55 54.8V46.4M1095.55 275.8V284.2M1104.71 54.8V46.4M1104.71 275.8V284.2M1113.86 54.8V46.4M1113.86 275.8V284.2M1123.02 54.8V39.1M1123.02 275.8V291.5M1132.17 54.8V46.4M1132.17 275.8V284.2M1141.33 54.8V46.4M1141.33 275.8V284.2M1150.49 54.8V46.4M1150.49 275.8V284.2M1159.64 54.8V46.4M1159.64 275.8V284.2M1168.8 54.8V39.1M1168.8 275.8V291.5M1022.3 231.6H1031M1168.8 231.6H1160.1M1022.3 187.4H1031M1168.8 187.4H1160.1M1022.3 143.2H1031M1168.8 143.2H1160.1M1022.3 99H1031M1168.8 99H1160.1M1022.3 253.7H1027M1168.8 253.7H1164.1M1022.3 209.5H1027M1168.8 209.5H1164.1M1022.3 165.3H1027M1168.8 165.3H1164.1M1022.3 121.1H1027M1168.8 121.1H1164.1M1022.3 76.9H1027M1168.8 76.9H1164.1" stroke="#000" stroke-width="2.5" fill="none"/>
<rect x="1022.3" y="318" width="146.5" height="220.2" fill="none" stroke="#000" stroke-width="2.5"/>
<path d="M1022.3 318V309.6M1022.3 538.2V546.6M1031.46 318V302.3M1031.46 538.2V553.9M1040.61 318V309.6M1040.61 538.2V546.6M1049.77 318V309.6M1049.77 538.2V546.6M1058.92 318V309.6M1058.92 538.2V546.6M1068.08 318V309.6M1068.08 538.2V546.6M1077.24 318V302.3M1077.24 538.2V553.9M1086.39 318V309.6M1086.39 538.2V546.6M1095.55 318V309.6M1095.55 538.2V546.6M1104.71 318V309.6M1104.71 538.2V546.6M1113.86 318V309.6M1113.86 538.2V546.6M1123.02 318V302.3M1123.02 538.2V553.9M1132.17 318V309.6M1132.17 538.2V546.6M1141.33 318V309.6M1141.33 538.2V546.6M1150.49 318V309.6M1150.49 538.2V546.6M1159.64 318V309.6M1159.64 538.2V546.6M1168.8 318V302.3M1168.8 538.2V553.9M1022.3 518.18H1038.3M1168.8 518.18H1152.8M1022.3 478.15H1038.3M1168.8 478.15H1152.8M1022.3 438.11H1038.3M1168.8 438.11H1152.8M1022.3 398.07H1038.3M1168.8 398.07H1152.8M1022.3 358.04H1038.3M1168.8 358.04H1152.8M1022.3 498.16H1030.9M1168.8 498.16H1160.2M1022.3 458.13H1030.9M1168.8 458.13H1160.2M1022.3 418.09H1030.9M1168.8 418.09H1160.2M1022.3 378.05H1030.9M1168.8 378.05H1160.2M1022.3 338.02H1030.9M1168.8 338.02H1160.2" stroke="#000" stroke-width="2.5" fill="none"/>
<g clip-path="url(#ct5)">
<path d="M1022.3 143.3C1026.3 137.93 1029.92 133.1 1034.3 127.2C1038.68 121.3 1044.55 113.73 1048.6 107.9C1052.65 102.07 1055.73 96.77 1058.6 92.2C1061.47 87.63 1063.42 83.7 1065.8 80.5C1068.18 77.3 1070.75 74.62 1072.9 73C1075.05 71.38 1076.85 71 1078.7 70.8C1080.55 70.6 1082.2 71.22 1084 71.8C1085.8 72.38 1086.18 72.77 1089.5 74.3C1092.82 75.83 1099.12 78.62 1103.9 81C1108.68 83.38 1114.23 86.45 1118.2 88.6C1122.17 90.75 1122.93 91.67 1127.7 93.9C1132.47 96.13 1139.95 99.72 1146.8 102C1153.65 104.28 1161.47 105.73 1168.8 107.6" stroke="#0535f8" stroke-width="3.2" fill="none" stroke-linejoin="round" stroke-linecap="butt"/>
<path d="M1022.3 143.3C1026.3 137.93 1029.92 133.1 1034.3 127.2C1038.68 121.3 1044.55 113.73 1048.6 107.9C1052.65 102.07 1055.73 96.77 1058.6 92.2C1061.47 87.63 1063.42 83.7 1065.8 80.5C1068.18 77.3 1070.75 74.62 1072.9 73C1075.05 71.38 1076.85 71 1078.7 70.8C1080.55 70.6 1082.2 71.22 1084 71.8C1085.8 72.38 1086.18 72.77 1089.5 74.3C1092.82 75.83 1099.12 78.62 1103.9 81C1108.68 83.38 1114.23 86.45 1118.2 88.6C1122.17 90.75 1122.93 91.67 1127.7 93.9C1132.47 96.13 1139.95 99.27 1146.8 102C1153.65 104.73 1161.47 107.53 1168.8 110.3" stroke="#048b0c" stroke-width="3.2" fill="none" stroke-linejoin="round" stroke-linecap="butt"/>
<path d="M1022.3 143.3C1026.3 137.93 1029.92 133.1 1034.3 127.2C1038.68 121.3 1044.55 113.73 1048.6 107.9C1052.65 102.07 1055.73 96.77 1058.6 92.2C1061.47 87.63 1063.42 83.7 1065.8 80.5C1068.18 77.3 1070.75 74.62 1072.9 73C1075.05 71.38 1076.85 71 1078.7 70.8C1080.55 70.6 1082.2 71.22 1084 71.8C1085.8 72.38 1086.18 72.77 1089.5 74.3C1092.82 75.83 1099.12 78.62 1103.9 81C1108.68 83.38 1114.23 86.45 1118.2 88.6C1122.17 90.75 1122.93 91.67 1127.7 93.9C1132.47 96.13 1139.95 99.27 1146.8 102C1153.65 104.73 1161.47 107.53 1168.8 110.3" stroke="#9c9604" stroke-width="3.2" fill="none" stroke-linejoin="round" stroke-linecap="butt"/>
<path d="M1022.3 143.3C1026.3 137.93 1029.92 133.1 1034.3 127.2C1038.68 121.3 1044.55 113.73 1048.6 107.9C1052.65 102.07 1055.73 96.77 1058.6 92.2C1061.47 87.63 1063.42 83.7 1065.8 80.5C1068.18 77.3 1070.75 74.62 1072.9 73C1075.05 71.38 1076.85 71 1078.7 70.8C1080.55 70.6 1082.2 71.22 1084 71.8C1085.8 72.38 1086.18 72.77 1089.5 74.3C1092.82 75.83 1099.12 78.62 1103.9 81C1108.68 83.38 1114.23 86.45 1118.2 88.6C1122.17 90.75 1122.93 91.67 1127.7 93.9C1132.47 96.13 1139.95 99.27 1146.8 102C1153.65 104.73 1161.47 107.53 1168.8 110.3" stroke="#f50505" stroke-width="3.2" fill="none" stroke-linejoin="round" stroke-linecap="butt"/>
</g>
<g clip-path="url(#cb5)">
<path d="M1022.3 513.5C1030.2 513.4 1041.47 513.35 1046 513.2C1050.53 513.05 1048.57 512.97 1049.5 512.6C1050.43 512.23 1050.88 511 1051.6 511C1052.32 511 1052.73 512.27 1053.8 512.6C1054.87 512.93 1053.63 512.98 1058 513C1062.37 513.02 1072.33 512.77 1080 512.7C1087.67 512.63 1098.33 512.75 1104 512.6C1109.67 512.45 1111.17 512.23 1114 511.8C1116.83 511.37 1118.75 510.83 1121 510C1123.25 509.17 1125.3 508.7 1127.5 506.8C1129.7 504.9 1131.75 502.92 1134.2 498.6C1136.65 494.28 1139.82 488.37 1142.2 480.9C1144.58 473.43 1146.65 462.28 1148.5 453.8C1150.35 445.32 1151.63 439.8 1153.3 430C1154.97 420.2 1157.05 406.67 1158.5 395C1159.95 383.33 1160.92 372.83 1162 360C1163.08 347.17 1164 332 1165 318" stroke="#0535f8" stroke-width="2.6" fill="none" stroke-linejoin="round" stroke-linecap="butt"/>
<path d="M1022.3 516.6C1030.47 515.83 1037.18 514.63 1046.8 514.3C1056.42 513.97 1066.13 514.73 1080 514.6C1093.87 514.47 1119.63 513.95 1130 513.5C1140.37 513.05 1138.05 513.1 1142.2 511.9C1146.35 510.7 1151.47 508.82 1154.9 506.3C1158.33 503.78 1160.48 500.38 1162.8 496.8C1165.12 493.22 1166.8 488.8 1168.8 484.8" stroke="#048b0c" stroke-width="2.6" fill="none" stroke-linejoin="round" stroke-linecap="butt"/>
<path d="M1022.3 515C1041.53 515 1060.38 515.08 1080 515C1099.62 514.92 1125.2 514.75 1140 514.5C1154.8 514.25 1159.2 513.83 1168.8 513.5" stroke="#9c9604" stroke-width="2.6" fill="none" stroke-linejoin="round" stroke-linecap="butt"/>
<path d="M1022.3 513.5C1041.53 513.5 1060.05 513.53 1080 513.5C1099.95 513.47 1129 513.43 1142 513.3C1155 513.17 1153.53 512.93 1158 512.7C1162.47 512.47 1165.2 512.17 1168.8 511.9" stroke="#f50505" stroke-width="2.6" fill="none" stroke-linejoin="round" stroke-linecap="butt"/>
</g>
<path d="M1070.3 55L1085.7 55L1078 68.6Z" fill="#000"/>
<text transform="translate(1065.25,215.4) scale(1.06,1)" font-family='"Liberation Serif", serif' font-size="20" font-style="italic">x</text>
<text transform="translate(1080.55,217) scale(1.06,1)" font-family='"Liberation Serif", serif' font-size="20">=</text>
<text transform="translate(1097.85,215.4) scale(1.01,1)" font-family='"Liberation Serif", serif' font-size="20">1.0</text>
<path d="M1062.05 227.8H1129.05" stroke="#000" stroke-width="3"/>
<text transform="translate(1023.7,16.8)" font-family='"Liberation Sans", sans-serif' font-size="19.5">(f)</text>
<text transform="translate(1031.46,580) scale(1.04,1)" font-family='"Liberation Serif", serif' font-size="20" text-anchor="middle">200</text>
<text transform="translate(1077.24,580) scale(1.04,1)" font-family='"Liberation Serif", serif' font-size="20" text-anchor="middle">300</text>
<text transform="translate(1123.02,580) scale(1.04,1)" font-family='"Liberation Serif", serif' font-size="20" text-anchor="middle">400</text>
<text transform="translate(1168.8,580) scale(1.04,1)" font-family='"Liberation Serif", serif' font-size="20" text-anchor="middle">500</text>
<text transform="translate(79.2,282.3)" font-family='"Liberation Serif", serif' font-size="20" text-anchor="end">0</text>
<text transform="translate(79.2,238.1)" font-family='"Liberation Serif", serif' font-size="20" text-anchor="end">20</text>
<text transform="translate(79.2,193.9)" font-family='"Liberation Serif", serif' font-size="20" text-anchor="end">40</text>
<text transform="translate(79.2,149.7)" font-family='"Liberation Serif", serif' font-size="20" text-anchor="end">60</text>
<text transform="translate(79.2,105.5)" font-family='"Liberation Serif", serif' font-size="20" text-anchor="end">80</text>
<text transform="translate(79.2,61.3)" font-family='"Liberation Serif", serif' font-size="20" text-anchor="end">100</text>
<text transform="translate(75.6,524.18)" font-family='"Liberation Serif", serif' font-size="20" text-anchor="end">0</text>
<text transform="translate(75.6,484.15)" font-family='"Liberation Serif", serif' font-size="20" text-anchor="end">0.02</text>
<text transform="translate(75.6,444.11)" font-family='"Liberation Serif", serif' font-size="20" text-anchor="end">0.04</text>
<text transform="translate(75.6,404.07)" font-family='"Liberation Serif", serif' font-size="20" text-anchor="end">0.06</text>
<text transform="translate(75.6,364.04)" font-family='"Liberation Serif", serif' font-size="20" text-anchor="end">0.08</text>
<text transform="translate(75.6,324)" font-family='"Liberation Serif", serif' font-size="20" text-anchor="end">0.10</text>
<text transform="translate(619.6,622) scale(1.01,1)" font-family='"Liberation Serif", serif' font-size="26" text-anchor="middle">Temperature / K</text>
<g transform="translate(18.4,0) rotate(-90)"><text transform="translate(-463.2,0) scale(1.1,1)" font-family='"Liberation Serif", serif' font-size="24">tan</text><text transform="translate(-425.6,0) scale(1.16,1)" font-family='"Liberation Serif", serif' font-size="24" font-style="italic">δ</text></g>
<g transform="rotate(-90)"><text x="-174" y="18.6" font-family='"Liberation Serif", serif' font-size="26" font-style="italic">ε</text><text x="-161.6" y="23.6" font-family='"Liberation Serif", serif' font-size="16">r</text></g>
<path d="M2.2 161.9L6.6 163.1" stroke="#000" stroke-width="1.9" stroke-linecap="round"/>
<text transform="translate(1170.5,106.6) scale(1.25,1)" font-family='"Liberation Serif", serif' font-size="23" font-style="italic">f</text>
<text transform="translate(1186.8,106.3)" font-family='"Liberation Serif", serif' font-size="20">/</text>
<text transform="translate(1197.5,106.3) scale(1.05,1)" font-family='"Liberation Serif", serif' font-size="20">Hz</text>
<path d="M1179 132.6H1204.6" stroke="#0535f8" stroke-width="4.6"/>
<text transform="translate(1212.1,138.6) scale(1.04,1)" font-family='"Liberation Serif", serif' font-size="20">10</text>
<text transform="translate(1233.3,122.8) scale(1.05,1)" font-family='"Liberation Serif", serif' font-size="14.5">3</text>
<path d="M1179 164.8H1204.6" stroke="#048b0c" stroke-width="4.6"/>
<text transform="translate(1212.1,170.8) scale(1.04,1)" font-family='"Liberation Serif", serif' font-size="20">10</text>
<text transform="translate(1233.3,155) scale(1.05,1)" font-family='"Liberation Serif", serif' font-size="14.5">4</text>
<path d="M1179 197.5H1204.6" stroke="#9c9604" stroke-width="4.6"/>
<text transform="translate(1212.1,203.5) scale(1.04,1)" font-family='"Liberation Serif", serif' font-size="20">10</text>
<text transform="translate(1233.3,187.7) scale(1.05,1)" font-family='"Liberation Serif", serif' font-size="14.5">5</text>
<path d="M1179 230.2H1204.6" stroke="#f50505" stroke-width="4.6"/>
<text transform="translate(1212.1,236.2) scale(1.04,1)" font-family='"Liberation Serif", serif' font-size="20">10</text>
<text transform="translate(1233.3,220.4) scale(1.05,1)" font-family='"Liberation Serif", serif' font-size="14.5">6</text>
</svg></body></html>
